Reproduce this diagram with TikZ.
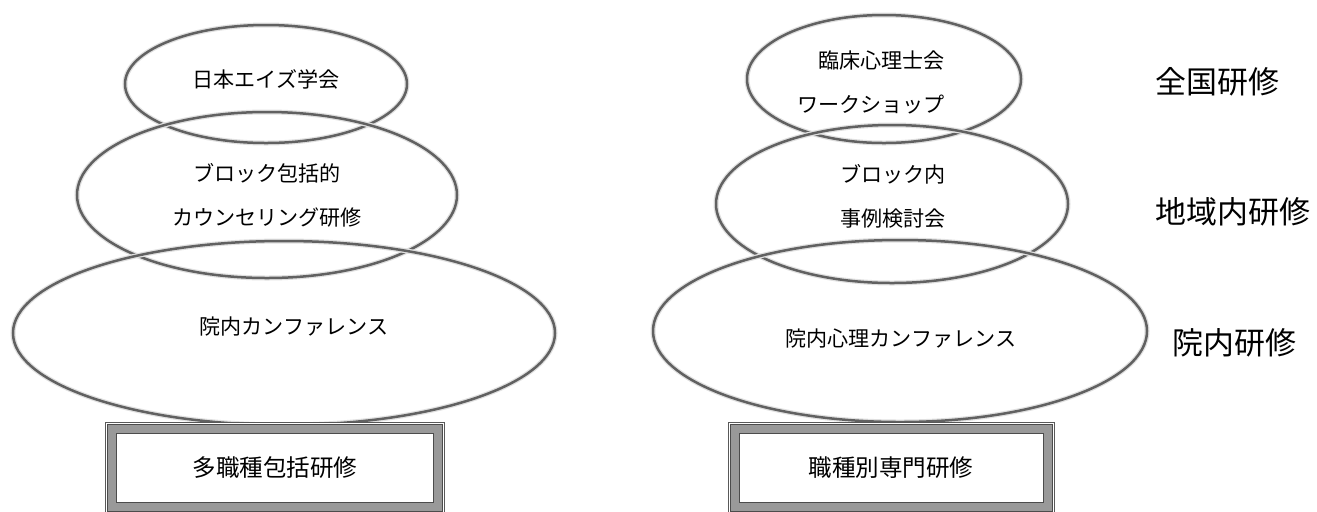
\documentclass[tikz,border=0pt]{standalone}
\usepackage{fontspec}
\setmainfont{Noto Sans CJK JP}

\tikzset{
  ring/.style={draw=black!62, line width=0.5mm, preaction={draw=black!12, line width=1.0mm}},
  intext/.style={font=\fontsize{12}{25}\selectfont, align=center, inner sep=0pt},
  level/.style={font=\fontsize{17.6}{20}\selectfont, anchor=west, inner sep=0pt},
  frame/.style={draw=black!70, double=black!40, double distance=1.6mm, line width=0.2mm,
    fill=white, minimum height=15.6mm, font=\fontsize{13.4}{16}\selectfont,
    preaction={draw=black!65, line width=2.8mm},
    preaction={draw=white, line width=2.4mm}}
}

\begin{document}
\begin{tikzpicture}[x=0.2mm,y=-0.2mm]
  \useasboundingbox (0,0) rectangle (1317,511);
  \clip (0,0) rectangle (1317,511);

  % left stack
  \draw[ring] (266,84)  ellipse [x radius=28.2mm, y radius=11.8mm];
  \draw[ring] (267,195) ellipse [x radius=38.0mm, y radius=16.6mm];
  \draw[ring] (284,333) ellipse [x radius=54.2mm, y radius=18.4mm];
  \node[intext] (aids)    at (266,79)  {日本エイズ学会};
  \node[intext] (blockL)  at (267,195) {ブロック包括的\\カウンセリング研修};
  \node[intext] (confL)   at (294,326) {院内カンファレンス};

  % right stack
  \draw[ring] (884,79)  ellipse [x radius=27.4mm, y radius=12.8mm];
  \draw[ring] (892,204) ellipse [x radius=35.2mm, y radius=15.8mm];
  \draw[ring] (900,331) ellipse [x radius=49.4mm, y radius=18.2mm];
  \node[intext, align=right, anchor=east] (psyws)  at (945,82)  {臨床心理士会\\ワークショップ};
  \node[intext] (blockR)  at (893,196) {ブロック内\\事例検討会};
  \node[intext] (confR)   at (901,338) {院内心理カンファレンス};

  % levels
  \node[level] (national) at (1155,82)  {全国研修};
  \node[level] (regional) at (1155,212) {地域内研修};
  \node[level] (hospital) at (1172,343) {院内研修};

  % bottom boxes
  \node[frame, minimum width=65.2mm] (multi) at (275,468) {多職種包括研修};
  \node[frame, minimum width=62.6mm] (spec)  at (891,468) {職種別専門研修};
\end{tikzpicture}
\end{document}
